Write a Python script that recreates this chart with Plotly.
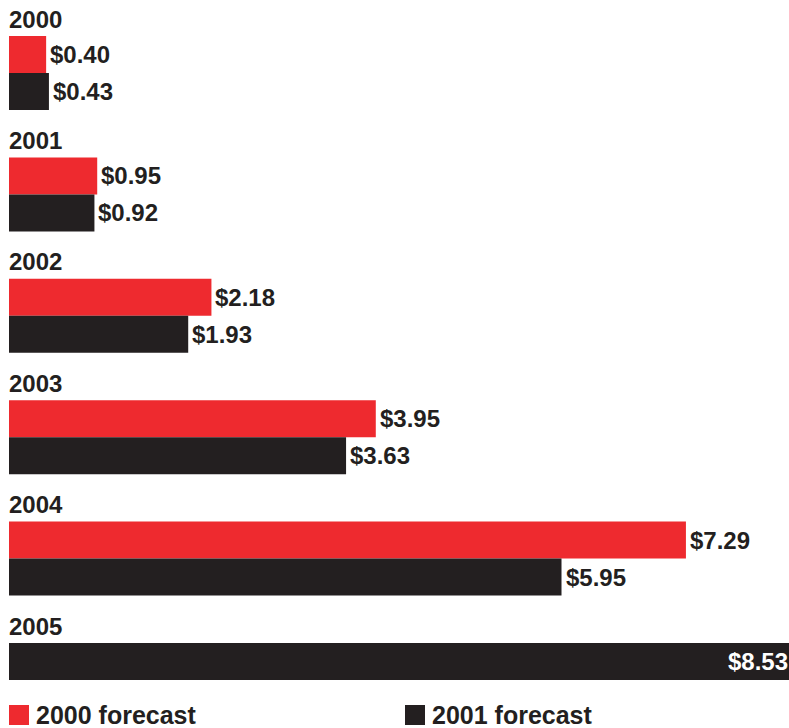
import plotly.graph_objects as go

# Forecast values (US$) by year
years = ["2000", "2001", "2002", "2003", "2004", "2005"]
forecast_2000 = [0.40, 0.95, 2.18, 3.95, 7.29, None]
forecast_2001 = [0.43, 0.92, 1.93, 3.63, 5.95, 8.53]
series_names = ["2000 forecast", "2001 forecast"]

RED = "#EE2A2F"
INK = "#231F20"
FONT = "Liberation Sans, Arial, sans-serif"

W, H = 789, 728
LEFT = 9
X_MAX = 8.40           # axis extent; the longest bar runs off the right edge
GROUP_TOP = 36         # top of the first bar row (vertical axis in pixels)
GROUP_STEP = 121.4     # distance between year groups
BAR_H = 37

red_y, black_y = [], []
for i, (a, b) in enumerate(zip(forecast_2000, forecast_2001)):
    top = GROUP_TOP + i * GROUP_STEP
    red_y.append(top + BAR_H / 2)
    # when there is no red bar the black bar takes the first slot
    black_slot = 1 if a is not None else 0
    black_y.append(top + BAR_H / 2 + black_slot * BAR_H)

fig = go.Figure()
fig.add_trace(go.Bar(
    x=forecast_2000, y=red_y, orientation="h", width=BAR_H,
    marker=dict(color=RED, line=dict(width=0)), name=series_names[0],
    showlegend=False,
))
fig.add_trace(go.Bar(
    x=forecast_2001, y=black_y, orientation="h", width=BAR_H,
    marker=dict(color=INK, line=dict(width=0)), name=series_names[1],
    showlegend=False,
))

annotations = []
# year headings
for i, yr in enumerate(years):
    top = GROUP_TOP + i * GROUP_STEP
    annotations.append(dict(
        x=0, y=top - 17, xref="x", yref="y", text=f"<b>{yr}</b>",
        showarrow=False, xanchor="left", yanchor="middle", xshift=-2,
        font=dict(family=FONT, size=24, color=INK),
    ))

# value labels
def add_value_labels(values, ys):
    for v, y in zip(values, ys):
        if v is None:
            continue
        if v > X_MAX:
            annotations.append(dict(
                x=1, xref="paper", y=y, yref="y", text=f"<b>${v:.2f}</b>",
                showarrow=False, xanchor="right", yanchor="middle", xshift=1,
                font=dict(family=FONT, size=24, color="white"),
            ))
        else:
            annotations.append(dict(
                x=v, xref="x", y=y, yref="y", text=f"<b>${v:.2f}</b>",
                showarrow=False, xanchor="left", yanchor="middle", xshift=2,
                font=dict(family=FONT, size=24, color=INK),
            ))

add_value_labels(forecast_2000, red_y)
add_value_labels(forecast_2001, black_y)

# legend: swatch + label
shapes = []
legend_items = [(series_names[0], RED, 9), (series_names[1], INK, 405)]
for name, color, px in legend_items:
    x0 = (px - LEFT) / (W - LEFT)
    x1 = (px + 20 - LEFT) / (W - LEFT)
    shapes.append(dict(
        type="rect", xref="paper", yref="y", x0=x0, x1=x1, y0=705, y1=725,
        fillcolor=color, line=dict(width=0),
    ))
    annotations.append(dict(
        x=(px + 25 - LEFT) / (W - LEFT), xref="paper", y=715, yref="y",
        text=f"<b>{name}</b>", showarrow=False, xanchor="left", yanchor="middle",
        font=dict(family=FONT, size=25, color=INK),
    ))

fig.update_layout(
    width=W, height=H,
    margin=dict(l=LEFT, r=0, t=0, b=0),
    paper_bgcolor="white", plot_bgcolor="white",
    barmode="overlay",
    xaxis=dict(range=[0, X_MAX], visible=False, fixedrange=True),
    yaxis=dict(range=[H, 0], visible=False, fixedrange=True),
    annotations=annotations,
    shapes=shapes,
    showlegend=False,
)

fig.write_html("out.html")
